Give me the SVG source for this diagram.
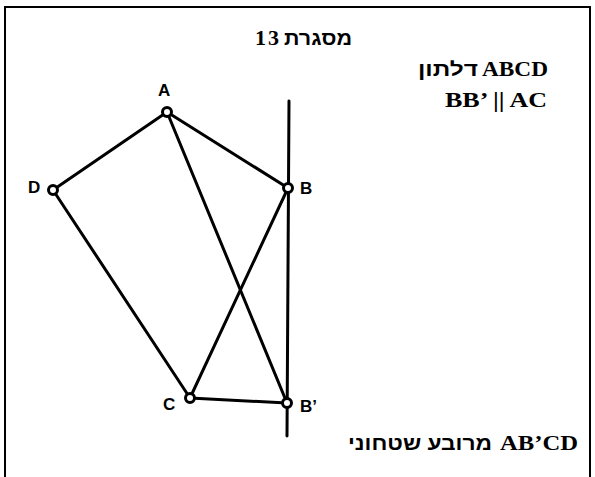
<svg xmlns="http://www.w3.org/2000/svg" width="595" height="477" viewBox="0 0 595 477">
<style>
.frame{fill:none;stroke:#000;stroke-width:2}
.ln{stroke:#000;stroke-width:3;stroke-linecap:round;fill:none}
.pt{fill:#fff;stroke:#000;stroke-width:3}
.lbl{font-family:"Liberation Sans","DejaVu Sans",sans-serif;font-weight:bold;font-size:17px;fill:#000}
.he{font-family:"Liberation Sans","DejaVu Sans",sans-serif;font-weight:bold;font-size:19px;fill:#000}
.la{font-family:"Liberation Serif","DejaVu Serif",serif;font-weight:bold;font-size:22px;fill:#000}
</style>
<rect width="595" height="477" fill="#fff"/>
<path class="frame" d="M5,480 V7 H590 V480"/>
<g id="texts">
<text class="la" x="255" y="45" font-size="20" textLength="24">13</text>
<text class="he" x="284" y="45" textLength="68" lengthAdjust="spacingAndGlyphs" direction="rtl" unicode-bidi="embed" text-anchor="end">מסגרת</text>
<text class="he" x="418" y="76" textLength="60" lengthAdjust="spacingAndGlyphs" direction="rtl" unicode-bidi="embed" text-anchor="end">דלתון</text>
<text class="la" x="482" y="76" textLength="66" lengthAdjust="spacingAndGlyphs">ABCD</text>
<text class="la" x="445" y="107" textLength="102" lengthAdjust="spacingAndGlyphs">BB’ || AC</text>
<text class="he" x="348" y="450" textLength="144" lengthAdjust="spacingAndGlyphs" direction="rtl" unicode-bidi="embed" text-anchor="end">מרובע שטחוני</text>
<text class="la" x="500" y="450" textLength="78" lengthAdjust="spacingAndGlyphs">AB’CD</text>
</g>
<g id="connectors">
<line class="ln" x1="289" y1="101" x2="287" y2="436"/>
<line class="ln" x1="167" y1="112" x2="288" y2="188"/>
<line class="ln" x1="167" y1="112" x2="53" y2="190"/>
<line class="ln" x1="53" y1="190" x2="190" y2="398"/>
<line class="ln" x1="190" y1="398" x2="287" y2="403"/>
<line class="ln" x1="190" y1="398" x2="288" y2="188"/>
<line class="ln" x1="167" y1="112" x2="287" y2="403"/>
</g>
<g id="node-A"><circle class="pt" cx="167" cy="112" r="4.5"/><text class="lbl" x="158" y="96">A</text></g>
<g id="node-B"><circle class="pt" cx="288" cy="188" r="4.5"/><text class="lbl" x="300" y="194">B</text></g>
<g id="node-D"><circle class="pt" cx="53" cy="190" r="4.5"/><text class="lbl" x="28" y="193" font-family="Liberation Serif" font-size="18">D</text></g>
<g id="node-C"><circle class="pt" cx="190" cy="398" r="4.5"/><text class="lbl" x="163" y="410">C</text></g>
<g id="node-B2"><circle class="pt" cx="287" cy="403" r="4.5"/><text class="lbl" x="300" y="412">B’</text></g>
</svg>
